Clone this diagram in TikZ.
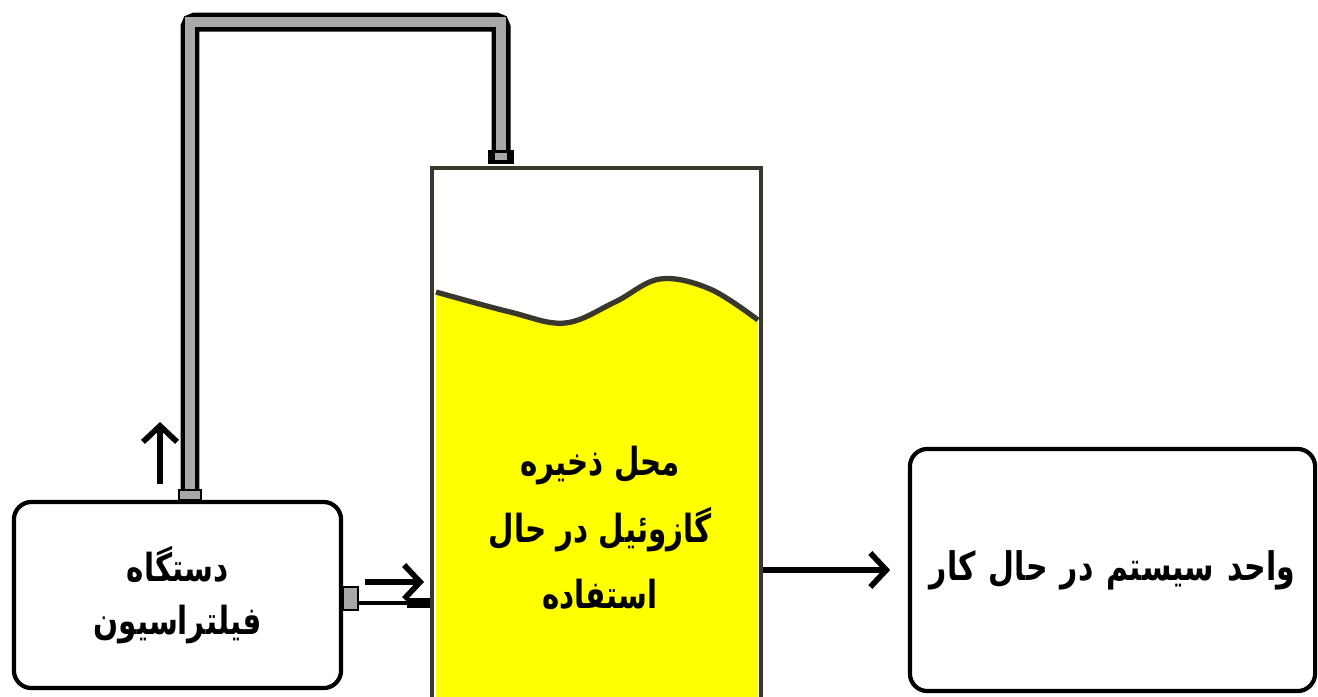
\documentclass[tikz,border=0pt]{standalone}
\usepackage{fontspec}
\usepackage{tikz}
\usetikzlibrary{calc}
\usetikzlibrary{arrows.meta}
\usetikzlibrary{positioning}
\definecolor{pipegray}{RGB}{168,168,168}
\definecolor{tankline}{RGB}{58,56,44}
\definecolor{fuel}{RGB}{255,255,0}
\newfontfamily\farsi[Script=Arabic, FakeStretch=0.76]{DejaVu Sans}
\TeXXeTstate=1

\begin{document}
\begin{tikzpicture}[x=0.01cm, y=-0.01cm,
    box/.style={draw, line width=1.2pt, rounded corners=5pt, align=center,
                font=\farsi\bfseries\fontsize{11pt}{15pt}\selectfont},
    flow/.style={line width=1.6pt, -{Straight Barb[length=1.6mm, width=3.4mm]}},
    nozzle/.style={draw, fill=pipegray, line width=0.8pt, inner sep=0pt}]
            \useasboundingbox (0,0) rectangle (1318,696);
            % tank contents
            \fill[fuel]                  (436,292) -- plot[smooth, tension=0.6] coordinates
                 {(436,292) (510,312) (565,323) (615,302) (660,279) (710,289) (758,320)} -- (758,700) -- (436,700) -- cycle;
            \draw[tankline, line width=1.5pt] plot[smooth, tension=0.6] coordinates
                 {(436,292) (510,312) (565,323) (615,302) (660,279) (710,289) (758,320)};
            \node[draw=tankline, line width=1.3pt, minimum width=3.29cm, minimum height=5.52cm] (tank) at (596.5,444) {};
            \node[font=\farsi\bfseries\fontsize{11pt}{19pt}\selectfont, align=center] (tanklabel) at (600,528)
                 {\beginR محل ذخیره\endR\\\beginR گازوئیل در حال\endR\\\beginR استفاده\endR};
            % boxes
            \node[box, minimum width=3.27cm, minimum height=1.86cm] (filter) at (177.5,595)
                 {\beginR دستگاه\endR\\\beginR فیلتراسیون\endR};
            \node[box, minimum width=4.05cm, minimum height=2.42cm, text width=3.8cm,
                  font=\farsi\bfseries\fontsize{11.2pt}{15pt}\selectfont] (unit) at (1112.5,570)
                 {\beginR واحد سیستم در حال کار\endR};
            % return pipe
            \coordinate (pipefoot) at (190,490);
            \coordinate (pipehead) at (501,151);
            \coordinate (pipetop)  at (0,22);
            \draw[black, line width=5.4pt, rounded corners=1.5pt] (pipefoot) -- (pipefoot |- pipetop) -| (pipehead);
            \draw[pipegray, line width=2.9pt]                    (pipefoot) -- (pipefoot |- pipetop) -| (pipehead);
            \node[nozzle, minimum width=0.22cm, minimum height=0.10cm] (footnozzle) at (190,495) {};
            \fill[black]    (488,150) rectangle (514,164);
            \fill[pipegray] (495,153) rectangle (507,160);
            % feed line
            \node[nozzle, minimum width=0.15cm, minimum height=0.23cm] (outlet) at (350.5,598.5) {};
            \draw[line width=1.4pt] (outlet.east |- 0,603) -- (tank.west |- 0,603);
            \fill[black] (407,598) rectangle (tank.west |- 0,608);
            % arrows
            \draw[flow] (365,582) -- (424,582);
            \draw[flow] (160,484) -- (160,422);
            \draw[flow, shorten >=5pt] (tank.east |- unit.west) -- (unit.west);
\end{tikzpicture}
\end{document}
